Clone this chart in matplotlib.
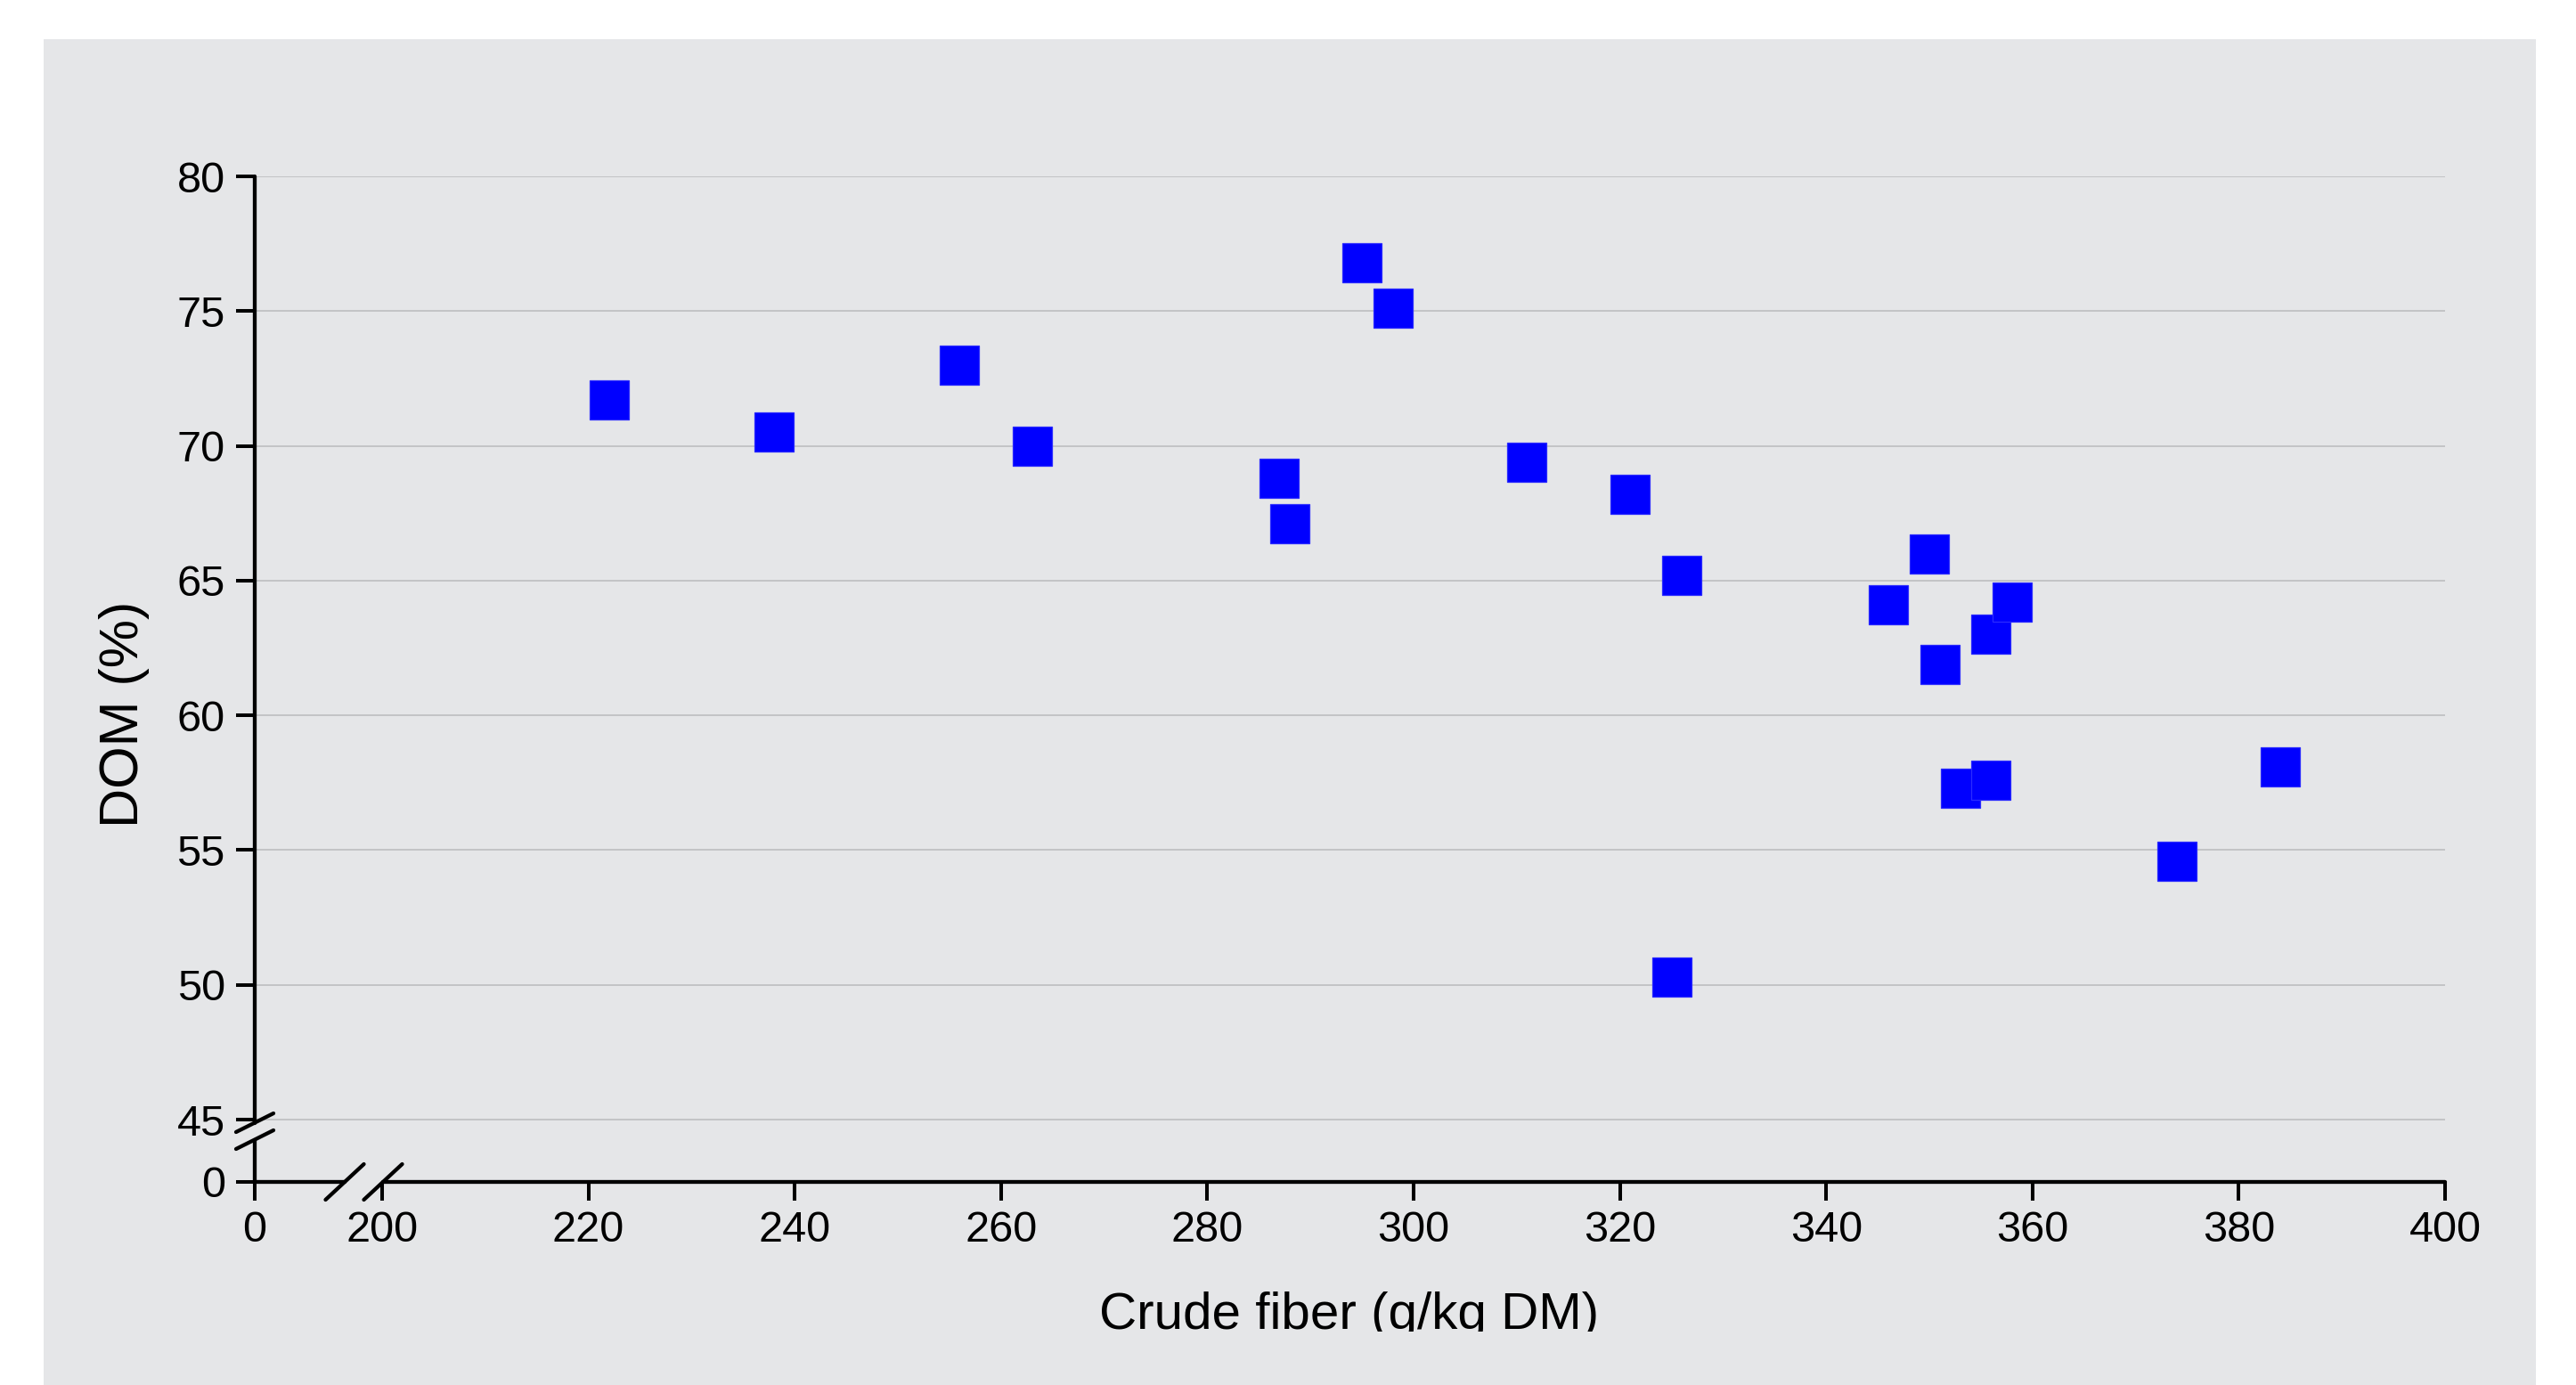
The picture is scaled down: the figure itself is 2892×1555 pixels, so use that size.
import numpy as np
import matplotlib
matplotlib.use("Agg")
import matplotlib.pyplot as plt
from matplotlib.patches import Rectangle
from matplotlib.lines import Line2D
from matplotlib.transforms import IdentityTransform, Bbox

# ---- data ----
crude_fiber = [222, 238, 256, 263, 287, 288, 295, 298, 311, 321, 326, 325,
               346, 350, 351, 353, 356, 356, 358, 374, 384]
dom = [71.7, 70.5, 73.0, 70.0, 68.8, 67.1, 76.8, 75.1, 69.4, 68.2, 65.2, 50.3,
       64.1, 66.0, 61.9, 57.3, 57.6, 63.0, 64.2, 54.6, 58.1]
x_ticks = [0, 200, 220, 240, 260, 280, 300, 320, 340, 360, 380, 400]
y_ticks = [0, 45, 50, 55, 60, 65, 70, 75, 80]
x_label = "Crude fiber (g/kg DM)"
y_label = "DOM (%)"

plt.rcParams['font.family'] = ['Liberation Sans', 'DejaVu Sans']

W, H = 2892, 1555
fig = plt.figure(figsize=(W / 100, H / 100), dpi=100)
fig.patch.set_facecolor('white')
fig.patches.append(Rectangle((49 / W, 0), (2847 - 49) / W, (H - 44) / H,
                             transform=fig.transFigure, facecolor='#e5e6e8',
                             edgecolor='none', zorder=-10))

ax = fig.add_axes([286 / W, (H - 1327) / H, (2745 - 286) / W, (1327 - 198) / H])
ax.set_facecolor('none')

# broken-axis scales (compressed low segment)
RX = (143 / 11.58) / 200.0
RY = (70 / 30.26) / 45.0


def fx(x):
    x = np.asarray(x, dtype=float)
    return np.where(x >= 200, x, 200 - (200 - x) * RX)


def ix(u):
    u = np.asarray(u, dtype=float)
    return np.where(u >= 200, u, 200 - (200 - u) / RX)


def fy(y):
    y = np.asarray(y, dtype=float)
    return np.where(y >= 45, y, 45 - (45 - y) * RY)


def iy(u):
    u = np.asarray(u, dtype=float)
    return np.where(u >= 45, u, 45 - (45 - u) / RY)


ax.set_xscale('function', functions=(fx, ix))
ax.set_yscale('function', functions=(fy, iy))
ax.set_xlim(0, 400)
ax.set_ylim(0, 80)
ax.set_xticks(x_ticks)
ax.set_yticks(y_ticks)
ax.set_xticklabels([str(t) for t in x_ticks])
ax.set_yticklabels([str(t) for t in y_ticks])
ax.minorticks_off()

for s in ax.spines.values():
    s.set_visible(False)

ax.tick_params(axis='both', direction='out', length=15, width=2.9,
               color='black', labelsize=35, labelcolor='black')
ax.tick_params(axis='y', pad=9)
ax.tick_params(axis='x', pad=8)

# horizontal grid lines (not at 0)
for yv in y_ticks[1:]:
    ax.axhline(yv, color='#c3c4c6', lw=1.4, zorder=0)

ax.plot(crude_fiber, dom, linestyle='none', marker='s', markersize=31.5,
        markerfacecolor='#0000ff', markeredgecolor='#2a2aff',
        markeredgewidth=0.9, zorder=3)

# custom axis lines with break marks (display coordinates)
fig.canvas.draw()
T = ax.transData
p0 = T.transform((0, 0))
p45 = T.transform((0, 45))
p80 = T.transform((0, 80))
p200 = T.transform((200, 0))
p400 = T.transform((400, 0))
LW = 3.1


def seg(x0, y0, x1, y1):
    fig.add_artist(Line2D([x0, x1], [y0, y1], transform=IdentityTransform(),
                          color='black', lw=LW, solid_capstyle='round',
                          zorder=5))


# y-axis
y_up = p45[1] - 3.5
y_lo = p45[1] - 22.5
seg(p0[0], y_up, p80[0], p80[1])
seg(p0[0], p0[1], p0[0], y_lo)
for yc in (y_up, y_lo):
    seg(p0[0] - 21, yc - 10.5, p0[0] + 21, yc + 10.5)

# x-axis
x_l = p200[0] - 42
x_r = p200[0] + 1
seg(p0[0], p0[1], x_l, p0[1])
seg(x_r, p0[1], p400[0], p400[1])
for xc in (x_l, x_r):
    seg(xc - 21.5, p0[1] - 20, xc + 21.5, p0[1] + 20)

# axis labels
xl = fig.text(1515 / W, 1 - 1492 / H, x_label, ha='center', va='baseline',
              fontsize=42, color='black')
xl.set_clip_box(Bbox([[0, H - 1495], [W, H]]))
xl.set_clip_on(True)
fig.text(155 / W, 1 - 802 / H, y_label, rotation=90, rotation_mode='anchor',
         ha='center', va='baseline', fontsize=44, color='black')

fig.savefig('out.png', dpi=100)
